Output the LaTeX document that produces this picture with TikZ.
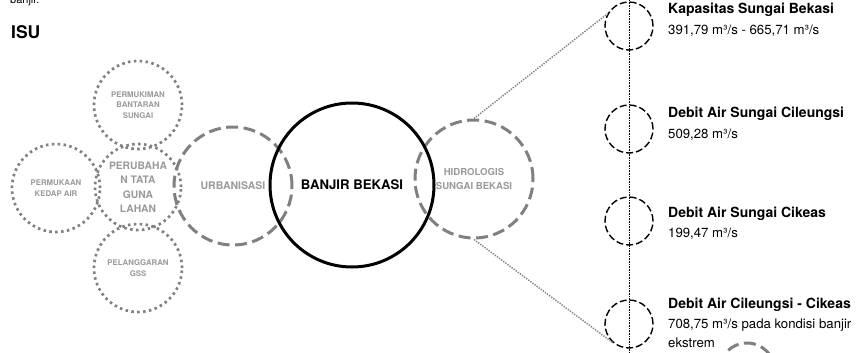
\documentclass[tikz,border=0pt]{standalone}
\usepackage{fontspec}
\setmainfont{TeX Gyre Heros}
\definecolor{cgray}{HTML}{808080}
\definecolor{tgray}{HTML}{999999}
\begin{document}
\begin{tikzpicture}[x=1pt,y=-1pt,
  dotcirc/.style={circle,draw=cgray,line width=2.7pt,dash pattern=on 2.5pt off 3.4pt,inner sep=0pt,align=center,text=tgray,font=\bfseries\fontsize{7.8}{10.5}\selectfont},
  dashcirc/.style={circle,draw=cgray,line width=3pt,dash pattern=on 12pt off 5.5pt,inner sep=0pt,minimum size=118pt,align=center,text=tgray},
  mainc/.style={circle,draw=black,line width=3pt,inner sep=0pt,minimum size=164pt,font=\bfseries\fontsize{13.2}{15}\selectfont},
  smallc/.style={circle,draw=black,line width=1.4pt,dash pattern=on 7pt off 3pt,inner sep=0pt,minimum size=48pt},
  thinv/.style={draw=black,line width=0.8pt,dash pattern=on 0.8pt off 0.8pt},
  diag/.style={draw=cgray,line width=1.5pt,dash pattern=on 1.3pt off 1.3pt},
  head/.style={anchor=base west,inner sep=0pt,font=\bfseries\fontsize{14}{16}\selectfont},
  val/.style={anchor=base west,inner sep=0pt,font=\fontsize{13.2}{15}\selectfont}]
\useasboundingbox (0,0) rectangle (856,353);

\node[anchor=base west,inner sep=0pt,font=\fontsize{11}{13}\selectfont] (ban) at (10,3.5) {banjir.};
\node[anchor=base west,inner sep=0pt,font=\bfseries\fontsize{17.5}{20}\selectfont] (isu) at (11,38) {ISU};

% left cluster
\node[dotcirc,minimum size=88pt] (perm) at (138,105) {PERMUKIMAN\\BANTARAN\\SUNGAI};
\node[dotcirc,minimum size=88pt] (kedap) at (56,188) {PERMUKAAN\\KEDAP AIR};
\node[dotcirc,minimum size=88pt] (gss) at (138,268) {PELANGGARAN\\GSS};
\node[dotcirc,minimum size=86pt,font=\bfseries\fontsize{10.3}{14.5}\selectfont] (tata) at (138,187) {PERUBAHA\\N TATA\\GUNA\\LAHAN};

\node[dashcirc,font=\bfseries\fontsize{10.5}{12}\selectfont] (urb) at (233,186) {URBANISASI};
\node[dashcirc,font=\bfseries\fontsize{9.6}{13.5}\selectfont] (hidro) at (474,179) {HIDROLOGIS\\SUNGAI BEKASI};
\node[mainc] (banjir) at (352,185) {BANJIR BEKASI};

% right column
\coordinate (vt) at (629,0);
\coordinate (vb) at (629,353);
\draw[thinv] (vt) -- (vb);
\node[smallc] (c1) at (629,26) {};
\node[smallc] (c2) at (629,129) {};
\node[smallc] (c3) at (629,221) {};
\node[smallc] (c4) at (629,324) {};

\draw[diag] (hidro.north) -- (c1.150);
\draw[diag] (hidro.south) -- (c4.230);

\node[head] (t1) at (668,14) {Kapasitas Sungai Bekasi};
\node[val] (v1) at (668,35) {391,79 m³/s - 665,71 m³/s};
\node[head] (t2) at (668,117) {Debit Air Sungai Cileungsi};
\node[val] (v2) at (668,138) {509,28 m³/s};
\node[head] (t3) at (668,217) {Debit Air Sungai Cikeas};
\node[val] (v3) at (668,237) {199,47 m³/s};
\node[head] (t4) at (668,308) {Debit Air Cileungsi - Cikeas};
\node[val] (v4) at (668,328) {708,75 m³/s pada kondisi banjir};
\node[val] (v5) at (668,347) {ekstrem};

\begin{scope}
\clip (0,0) rectangle (856,353);
\node[dashcirc,minimum size=56pt] (extra) at (747,371) {};
\end{scope}
\end{tikzpicture}
\end{document}
